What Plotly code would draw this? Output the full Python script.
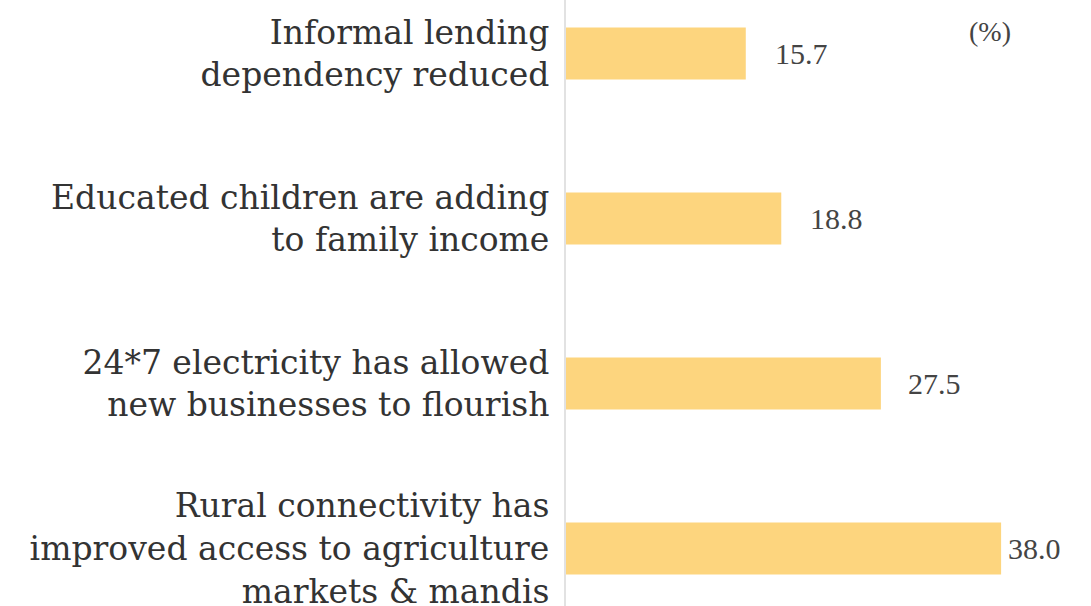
import plotly.graph_objects as go

# Survey responses, top to bottom
categories = [
    "Informal lending<br>dependency reduced",
    "Educated children are adding<br>to family income",
    "24*7 electricity has allowed<br>new businesses to flourish",
    "Rural connectivity has<br>improved access to agriculture<br>markets & mandis",
]
values = [15.7, 18.8, 27.5, 38.0]
value_labels = ["15.7", "18.8", "27.5", "38.0"]
unit_label = "(%)"

BAR_COLOR = "#fdd57e"
TEXT_COLOR = "#333333"
LABEL_FONT = "DejaVu Serif, serif"
VALUE_FONT = "Liberation Serif, serif"

fig = go.Figure(
    go.Bar(
        y=categories,
        x=values,
        orientation="h",
        marker=dict(color=BAR_COLOR, line=dict(width=0)),
        hoverinfo="skip",
    )
)

# value labels to the right of each bar (last one tucked in against the edge)
label_offsets = [27, 27, 25, 5]
for cat, val, txt, dx in zip(categories, values, value_labels, label_offsets):
    fig.add_annotation(
        x=val, y=cat, text=txt, showarrow=False,
        xanchor="left", yanchor="middle", xshift=dx,
        font=dict(family=VALUE_FONT, size=30, color="#444444"),
    )

# unit note in the top-right corner of the plot area
fig.add_annotation(
    xref="x domain", yref="y domain",
    x=(990 - 566) / 525, y=1 - 31 / 606,
    xanchor="center", yanchor="middle",
    text=unit_label, showarrow=False,
    font=dict(family=VALUE_FONT, size=28, color="#444444"),
)

fig.update_layout(
    width=1091,
    height=606,
    margin=dict(l=566, r=0, t=0, b=0),
    paper_bgcolor="white",
    plot_bgcolor="white",
    bargap=0.685,
    showlegend=False,
    xaxis=dict(
        range=[0, 45.85],
        visible=False,
        automargin=False,
        fixedrange=True,
    ),
    yaxis=dict(
        autorange=False,
        range=[3.349, -0.324],
        automargin=False,
        showline=True,
        linecolor="#e2e2e2",
        linewidth=2,
        showgrid=False,
        zeroline=False,
        ticks="",
        ticklabelstandoff=8,
        tickfont=dict(family=LABEL_FONT, size=33, color=TEXT_COLOR),
        fixedrange=True,
    ),
)

fig.write_html("out.html")
